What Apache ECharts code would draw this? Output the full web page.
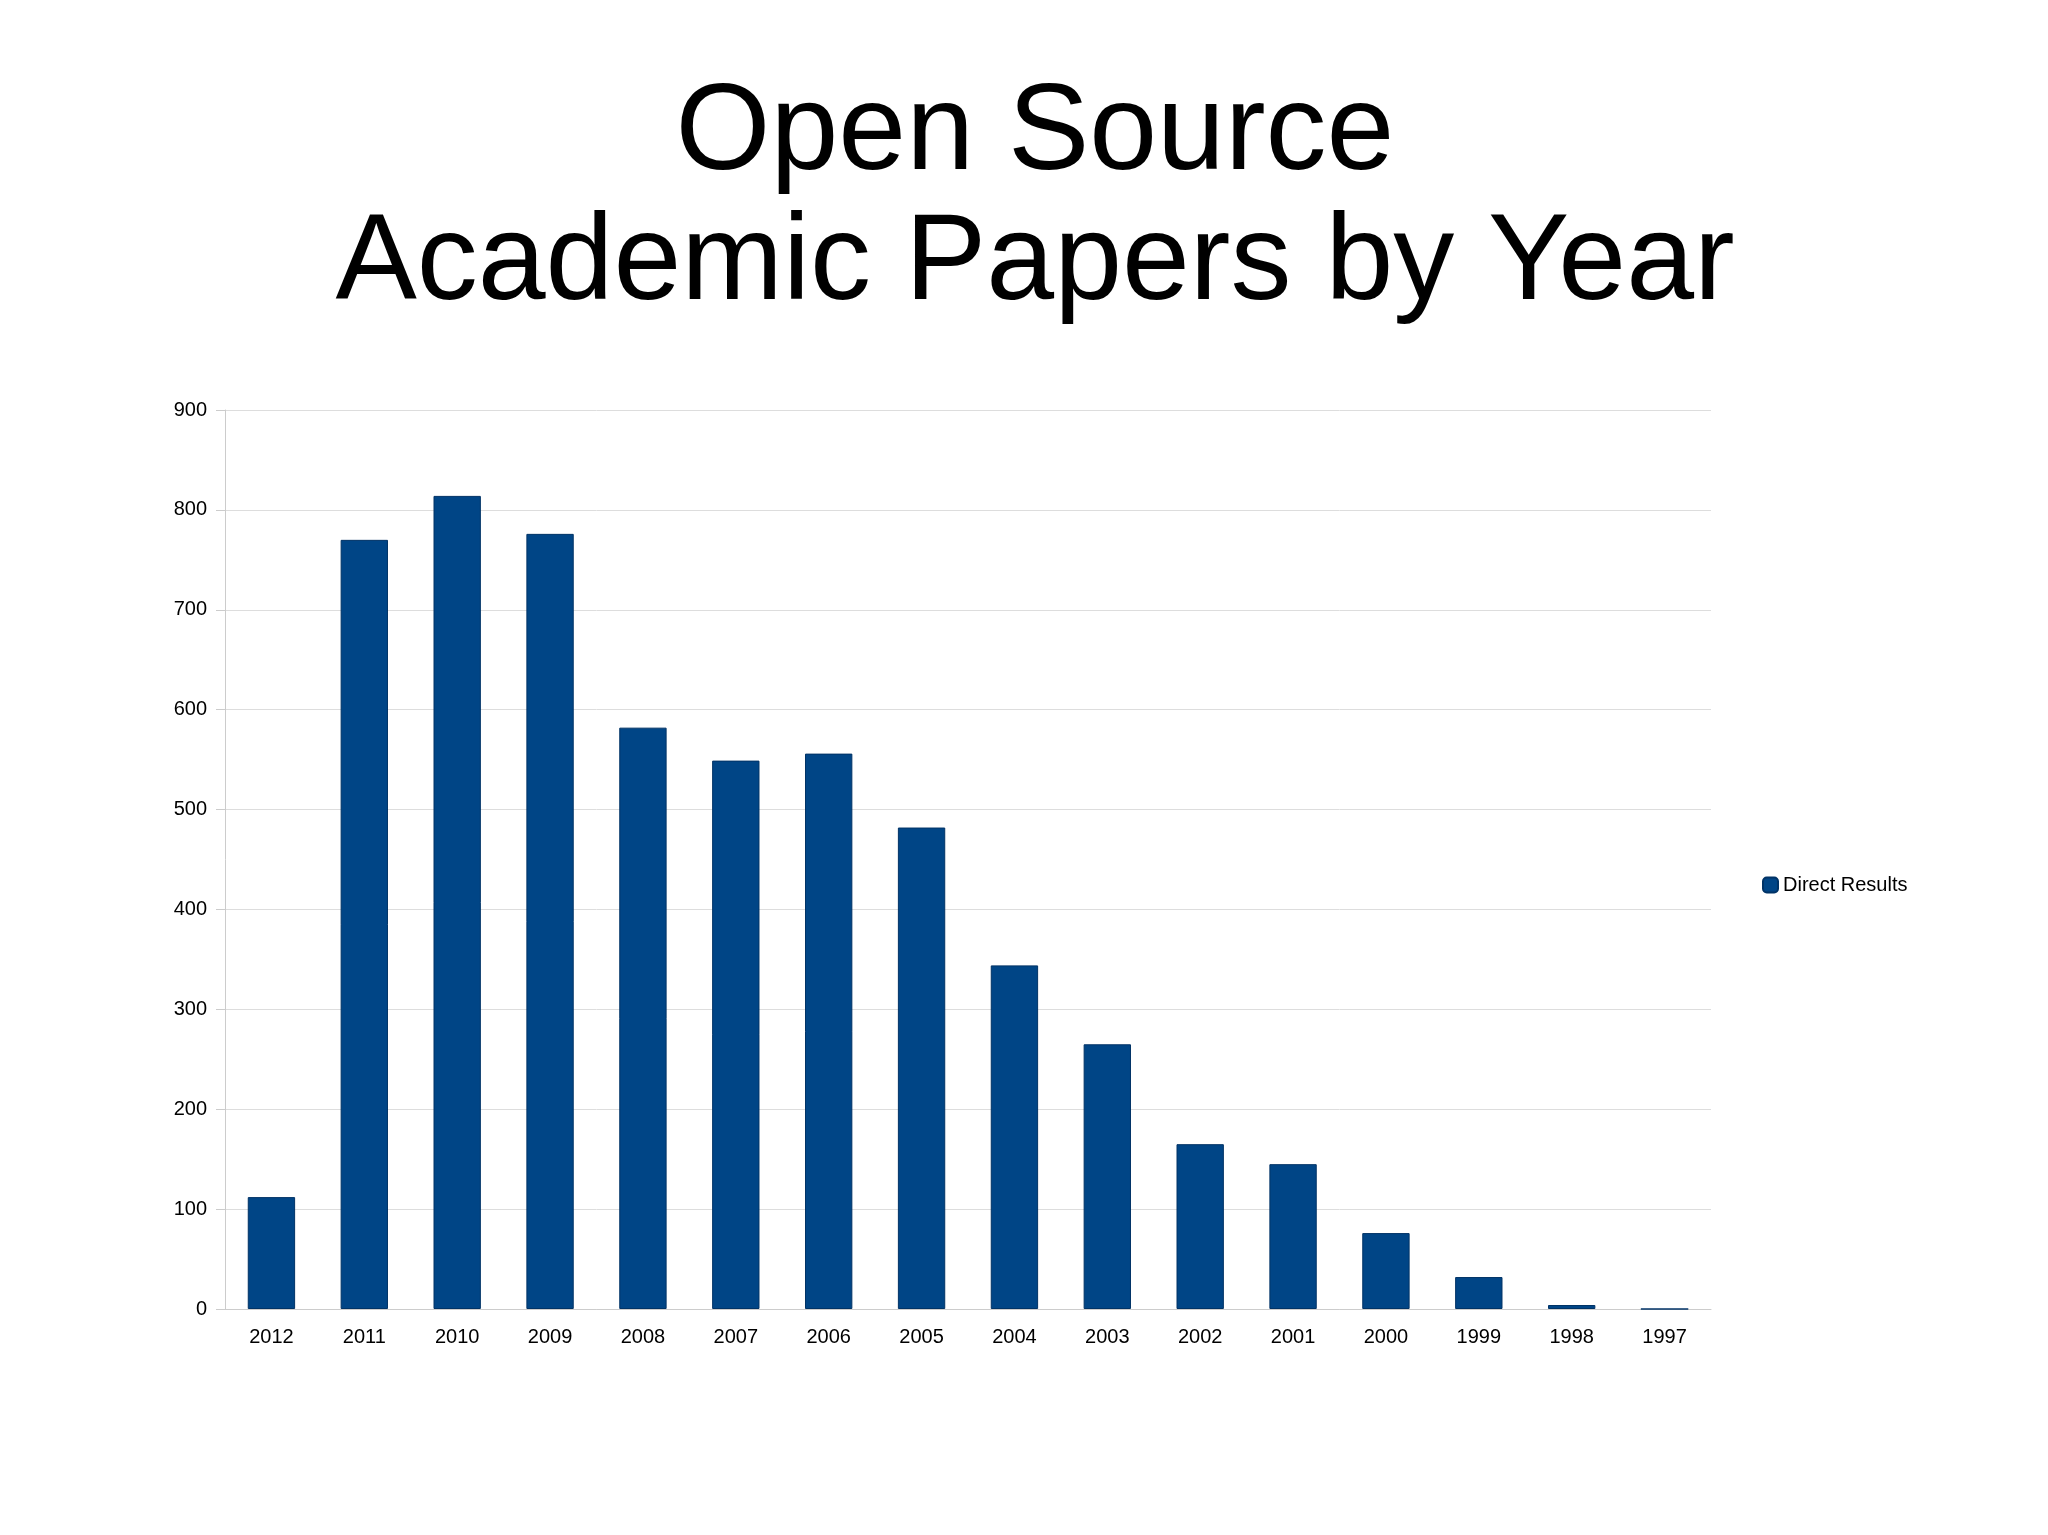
<!DOCTYPE html>
<html><head><meta charset="utf-8">
<script src="https://cdn.jsdelivr.net/npm/echarts@6/dist/echarts.min.js"></script>
<style>html,body{margin:0;background:#fff}#c{width:2048px;height:1535px}</style>
</head><body><div id="c"></div>
<script>
const categories = ['2012','2011','2010','2009','2008','2007','2006','2005','2004','2003','2002','2001','2000','1999','1998','1997'];
const directResults = [112,770,814,776,582,549,556,482,344,265,165,145,76,32,4,0];
const yTicks = [0,100,200,300,400,500,600,700,800,900];
const chart = echarts.init(document.getElementById('c'));
chart.setOption({
  animation:false,
  title:{text:'Open Source\nAcademic Papers by Year',left:1030,top:65,textAlign:'center',
    textStyle:{fontFamily:'Liberation Sans',fontSize:122,fontWeight:'normal',color:'#000',lineHeight:130}},
  legend:{orient:'vertical',left:1757,top:870,itemWidth:15,itemHeight:15,
    textStyle:{fontFamily:'Liberation Sans',fontSize:20,color:'#000'},data:['Direct Results']},
  grid:{left:225,right:2048-1711,top:410,bottom:1535-1309},
  xAxis:{type:'category',data:categories,
    axisLine:{lineStyle:{color:'#cccccc'}},axisTick:{length:9,lineStyle:{color:'#cccccc'}},
    axisLabel:{fontFamily:'Liberation Sans',fontSize:20,color:'#000',margin:18}},
  yAxis:{type:'value',min:0,max:900,interval:100,
    axisLine:{show:true,lineStyle:{color:'#cccccc'}},axisTick:{show:true,length:9,lineStyle:{color:'#cccccc'}},
    splitLine:{lineStyle:{color:'#dddddd'}},
    axisLabel:{fontFamily:'Liberation Sans',fontSize:20,color:'#000',margin:18,
      formatter:v=>yTicks.includes(v)?String(v):''}},
  series:[{name:'Direct Results',type:'bar',data:directResults,barWidth:'51%',
    itemStyle:{color:'#004586',borderColor:'#003366',borderWidth:1}}]
});
</script></body></html>
